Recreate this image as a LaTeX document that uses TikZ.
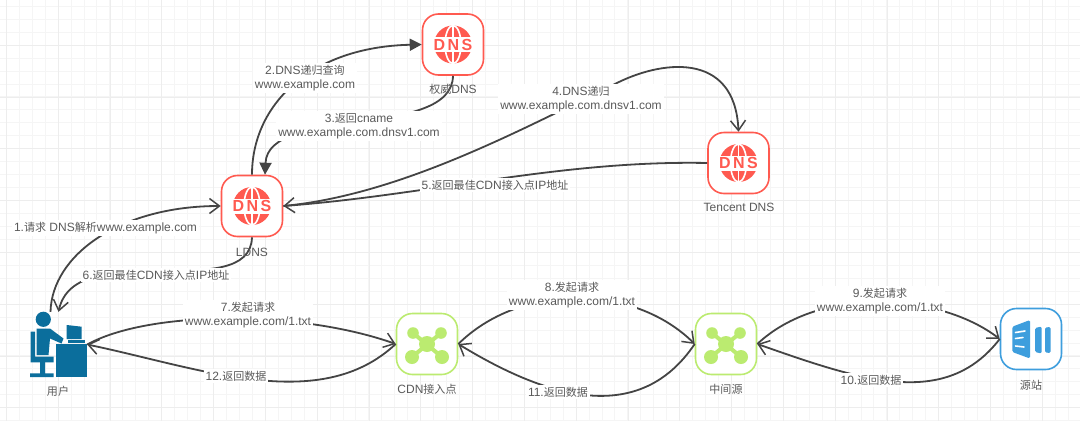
\documentclass[tikz,border=0pt]{standalone}
\usepackage{fontspec}
\setmainfont{Liberation Sans}
\newfontfamily\zhfont[Scale=0.92]{Noto Sans CJK SC}
\newcommand{\zh}[1]{{\zhfont #1}}
\usetikzlibrary{arrows.meta,positioning}
\definecolor{dnsred}{HTML}{FF5A50}
\definecolor{hubgreen}{HTML}{BBEB70}
\definecolor{originblue}{HTML}{3E9EDD}
\definecolor{userblue}{HTML}{0B6E9C}
\definecolor{linegray}{HTML}{444444}
\definecolor{textgray}{HTML}{5A5A5A}
\tikzset{
  gridminor/.style={line width=1pt, color=black!4},
  gridmajor/.style={line width=1pt, color=black!7},
  iconbox/.style={draw, fill=white, line width=1.6pt, rounded corners=16pt, minimum size=61pt, inner sep=0pt},
  caption/.style={text=textgray, font=\fontsize{12}{14}\selectfont, inner sep=1pt},
  steplabel/.style={text=textgray, fill=white, align=center, inner sep=2pt, font=\fontsize{12}{14.5}\selectfont},
  flow/.style={draw=linegray, line width=1.8pt, -{Straight Barb[length=10pt,width=15pt,line width=1.5pt]}},
  flowfilled/.style={draw=linegray, line width=1.8pt, -{Triangle[length=12pt,width=12pt]}},
  pics/dnsglobe/.style={code={
    \fill[dnsred] (0,0) circle (19);
    \draw[white, line width=1.6pt] (0,0) ellipse (8 and 19);
    \draw[white, line width=1.6pt] (0,-19) -- (0,19);
    \fill[white] (-20,-7.5) rectangle (20,7.5);
    \node[text=dnsred, inner sep=0pt, font=\fontsize{16}{16}\bfseries\selectfont] (-letters) at (0,0) {D\kern2.5pt N\kern2.5pt S};
  }},
  pics/hubmark/.style={code={
    \draw[hubgreen, line width=4pt] (-14,-11) -- (15,13) (14,-11) -- (-15,13);
    \fill[hubgreen] (0,0) circle (8);
    \fill[hubgreen] (-14,-11) circle (5.8);
    \fill[hubgreen] (14,-11) circle (5.8);
    \fill[hubgreen] (-15,13) circle (7);
    \fill[hubgreen] (15,13) circle (7);
  }},
}
\begin{document}
\begin{tikzpicture}[x=1pt,y=-1pt]
  \useasboundingbox (0,0) rectangle (1080,421);
  \fill[white] (0,0) rectangle (1080,421);

  % background grid
  \foreach \i in {0,...,83} {
    \pgfmathsetmacro\gx{6.3+12.95*\i}
    \draw[gridminor] (\gx,0) -- (\gx,421);
  }
  \foreach \i in {0,...,32} {
    \pgfmathsetmacro\gy{6.3+12.95*\i}
    \draw[gridminor] (0,\gy) -- (1080,\gy);
  }
  \foreach \i in {0,...,20} {
    \pgfmathsetmacro\gx{6.5+51.8*\i}
    \draw[gridmajor] (\gx,0) -- (\gx,421);
  }
  \foreach \i in {0,...,8} {
    \pgfmathsetmacro\gy{45.3+51.8*(\i-1)}
    \draw[gridmajor] (0,\gy) -- (1080,\gy);
  }

  % icon boxes
  \node[iconbox, draw=dnsred] (auth) at (453,44.5) {};
  \node[iconbox, draw=dnsred] (ldns) at (252,206) {};
  \node[iconbox, draw=dnsred] (tencent) at (738.5,163) {};
  \node[iconbox, draw=hubgreen] (cdn) at (427,344) {};
  \node[iconbox, draw=hubgreen] (mid) at (726,344) {};
  \node[iconbox, draw=originblue] (origin) at (1031,339) {};
  \node[minimum width=57pt, minimum height=65pt, inner sep=0pt] (user) at (58.5,344.5) {};

  \pic (authglobe) at (auth) {dnsglobe};
  \pic (ldnsglobe) at (ldns) {dnsglobe};
  \pic (tencentglobe) at (tencent) {dnsglobe};
  \pic at (cdn) {hubmark};
  \pic at (mid) {hubmark};

  % origin icon
  \fill[originblue, rounded corners=1.5pt] (1012.3,326.7) -- (1030,320) -- (1030,358.5) -- (1012.3,352) -- cycle;
  \fill[originblue, rounded corners=1.5pt] (1035,328) -- (1041.7,326.5) -- (1041.7,353.5) -- (1035,352) -- cycle;
  \fill[originblue, rounded corners=1.5pt] (1045,327.5) -- (1050.7,327) -- (1050.7,353) -- (1045,352.5) -- cycle;
  \draw[white, line width=1.6pt, line cap=round] (1015.5,332.5) -- (1025,331) (1015.5,338.5) -- (1023,337.5) (1015.5,346) -- (1024,347);

  % user icon
  \fill[userblue] (43.3,319.3) circle (7.6);
  \fill[userblue] (36.7,328.5) -- (50,328.5) -- (63.5,338.5) -- (61.5,343.5) -- (50,338.5) -- (48.5,355) -- (36.7,355) -- cycle;
  \fill[userblue] (30.7,331.5) -- (35,331.5) -- (35,356.7) -- (53.5,356.7) -- (53.5,362.3) -- (30.7,362.3) -- cycle;
  \fill[userblue] (40,362) -- (45,362) -- (45,373.3) -- (53.5,373.3) -- (53.5,377) -- (30,377) -- (30,373.3) -- (40,373.3) -- cycle;
  \fill[userblue] (55.7,344) rectangle (87.3,377);
  \fill[userblue] (66.7,325) -- (81.7,326.7) -- (81.7,339) -- (66.7,339) -- cycle;
  \fill[userblue] (68.3,340) -- (85,340) -- (85,343) -- (68.3,343) -- cycle;

  % connectors
  \draw[flow] ([xshift=-8pt]user.north) .. controls (52,255) and (120,206) .. (ldns.west);
  \draw[flowfilled] (ldns.north) .. controls (252,105) and (310,47) .. (auth.west);
  \draw[flowfilled] (auth.south) .. controls (452,140) and (268,105) .. ([xshift=13pt]ldns.north);
  \draw[flow] (ldns.east) .. controls (400,195) and (520,130) .. (613,85) .. controls (660,60) and (735,50) .. (tencent.north);
  \draw[flow] (tencent.west) .. controls (560,160) and (430,195) .. (ldns.east);
  \draw[flow] (ldns.south) .. controls (250,305) and (75,235) .. (user.north);
  \draw[flow] (user.east) .. controls (150,310) and (300,310) .. (cdn.west);
  \draw[flow] (cdn.west) .. controls (320,415) and (200,368) .. (user.east);
  \draw[flow] (cdn.east) .. controls (520,283) and (633,283) .. (mid.west);
  \draw[flow] (mid.west) .. controls (640,425) and (550,400) .. (cdn.east);
  \draw[flow] (mid.east) .. controls (820,285) and (940,293) .. (origin.west);
  \draw[flow] (origin.west) .. controls (945,410) and (860,380) .. (mid.east);

  % step labels
  \node[steplabel] (step1) at (105.5,228) {1.\zh{请求} DNS\zh{解析}www.example.com};
  \node[steplabel] (step2) at (305,78) {2.DNS\zh{递归查询}\\www.example.com};
  \node[steplabel] (step3) at (359,126) {3.\zh{返回}cname\\www.example.com.dnsv1.com};
  \node[steplabel] (step4) at (581,99) {4.DNS\zh{递归}\\www.example.com.dnsv1.com};
  \node[steplabel] (step5) at (495,185) {5.\zh{返回最佳}CDN\zh{接入点}IP\zh{地址}};
  \node[steplabel] (step6) at (156,275) {6.\zh{返回最佳}CDN\zh{接入点}IP\zh{地址}};
  \node[steplabel] (step7) at (248,315) {7.\zh{发起请求}\\www.example.com/1.txt};
  \node[steplabel] (step8) at (572,295) {8.\zh{发起请求}\\www.example.com/1.txt};
  \node[steplabel] (step9) at (880,301) {9.\zh{发起请求}\\www.example.com/1.txt};
  \node[steplabel] (step10) at (871,380) {10.\zh{返回数据}};
  \node[steplabel] (step11) at (558,392) {11.\zh{返回数据}};
  \node[steplabel] (step12) at (236,376) {12.\zh{返回数据}};

  % captions
  \node[caption] (authname) at (453,89) {\zh{权威}DNS};
  \node[caption] (ldnsname) at (252,252) {LDNS};
  \node[caption] (tencentname) at (739,207) {Tencent DNS};
  \node[caption] (username) at (58,391) {\zh{用户}};
  \node[caption] (cdnname) at (427,389) {CDN\zh{接入点}};
  \node[caption] (midname) at (726,389) {\zh{中间源}};
  \node[caption] (originname) at (1031,385) {\zh{源站}};
\end{tikzpicture}
\end{document}
